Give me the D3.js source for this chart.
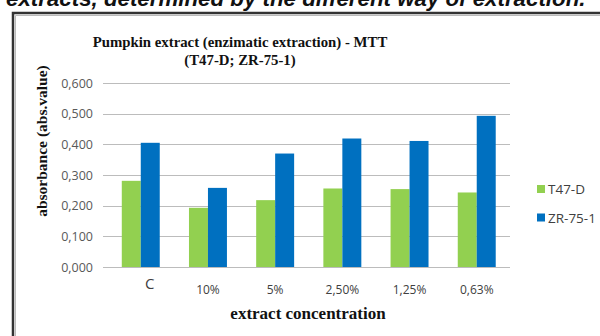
<!DOCTYPE html>
<html>
<head>
<meta charset="utf-8">
<script src="https://cdn.jsdelivr.net/npm/d3@7"></script>
<style>
  body { margin: 0; background: #fff; }
  svg { display: block; }
</style>
</head>
<body>
<div id="Vis"></div>
<script>
// data
var categories = ["C", "10%", "5%", "2,50%", "1,25%", "0,63%"];
var seriesNames = ["T47-D", "ZR-75-1"];
var t47d = [0.281, 0.193, 0.218, 0.256, 0.254, 0.243];
var zr751 = [0.405, 0.258, 0.370, 0.419, 0.411, 0.493];
var yTicks = [0, 0.1, 0.2, 0.3, 0.4, 0.5, 0.6];
var colors = ["#92d050", "#0070c0"];

var W = 600, H = 336;
var margin = {top: 83, right: 90, bottom: 69, left: 103},
    width = W - margin.left - margin.right,
    height = H - margin.top - margin.bottom;

var root = d3.select("#Vis")
  .append("svg")
    .attr("width", W)
    .attr("height", H);

// cropped caption text at the very top
root.append("text")
  .attr("x", 6)
  .attr("y", 6)
  .attr("font-family", "Liberation Sans, Arial, sans-serif")
  .attr("font-style", "italic")
  .attr("font-weight", "bold")
  .attr("font-size", "22.3px")
  .attr("fill", "#111")
  .text("extracts, determined by the different way of extraction.");

// frame (top and left edges only)
root.append("path")
  .attr("d", "M13,336 V13 H600")
  .attr("fill", "none")
  .attr("stroke", "#333")
  .attr("stroke-width", 2.5);
root.append("path")
  .attr("d", "M15.5,336 V15.5 H600")
  .attr("fill", "none")
  .attr("stroke", "#bbb")
  .attr("stroke-width", 1);

var svg = root.append("g")
  .attr("transform", "translate(" + margin.left + "," + margin.top + ")");

var x = d3.scaleBand()
  .domain(categories)
  .range([4, 407.5])
  .paddingInner(0.435)
  .paddingOuter(0.22);

var xs = d3.scaleBand()
  .domain(seriesNames)
  .range([0, x.bandwidth()]);

var y = d3.scaleLinear()
  .domain([0, 0.6])
  .range([height, 0]);

// gridlines
svg.append("g")
  .selectAll("line")
  .data(yTicks)
  .enter().append("line")
    .attr("x1", 0)
    .attr("x2", width)
    .attr("y1", function(d) { return Math.round(y(d)) + 0.5; })
    .attr("y2", function(d) { return Math.round(y(d)) + 0.5; })
    .attr("stroke", "#bcbcbc")
    .attr("stroke-width", 1.2);

// y axis labels
var yAxis = svg.append("g")
  .call(d3.axisLeft(y).tickValues(yTicks).tickSize(0).tickPadding(10)
    .tickFormat(function(d) { return d3.format(".3f")(d).replace(".", ","); }));
yAxis.select(".domain").remove();
yAxis.selectAll("text")
  .attr("font-family", "Open Sans, sans-serif")
  .attr("font-size", "12.5px")
  .attr("fill", "#595959");

// bars
var table = categories.map(function(c, i) {
  return {cat: c, values: [t47d[i], zr751[i]]};
});

svg.append("g")
  .selectAll("g")
  .data(table)
  .enter().append("g")
    .attr("transform", function(d) { return "translate(" + x(d.cat) + ",0)"; })
  .selectAll("rect")
  .data(function(d) { return d.values.map(function(v, j) { return {s: seriesNames[j], v: v, j: j}; }); })
  .enter().append("rect")
    .attr("x", function(d) { return xs(d.s); })
    .attr("width", xs.bandwidth())
    .attr("y", function(d) { return y(d.v); })
    .attr("height", function(d) { return height - y(d.v); })
    .attr("fill", function(d) { return colors[d.j]; });

// x axis labels
var xAxis = svg.append("g")
  .attr("transform", "translate(0," + height + ")")
  .call(d3.axisBottom(x).tickSize(0).tickPadding(18));
xAxis.select(".domain").remove();
xAxis.selectAll("text")
  .attr("font-family", "Open Sans, sans-serif")
  .attr("font-size", "12px")
  .attr("fill", "#404040");
xAxis.selectAll("text")
  .filter(function(d) { return d === "C"; })
  .attr("font-size", "15px")
  .attr("dx", 9)
  .attr("dy", "0.25em");

// legend
var legend = root.append("g")
  .attr("transform", "translate(537,185)");
legend.selectAll("rect")
  .data(seriesNames)
  .enter().append("rect")
    .attr("x", 0)
    .attr("y", function(d, i) { return i * 28.5; })
    .attr("width", 8)
    .attr("height", 8)
    .attr("fill", function(d, i) { return colors[i]; });
legend.selectAll("text")
  .data(seriesNames)
  .enter().append("text")
    .attr("x", 11)
    .attr("y", function(d, i) { return i * 28.5 + 9; })
    .attr("font-family", "Open Sans, sans-serif")
    .attr("font-size", "13.5px")
    .attr("fill", "#404040")
    .text(function(d) { return d; });

// title
var title = root.append("text")
  .attr("x", 240)
  .attr("y", 47)
  .attr("text-anchor", "middle")
  .attr("font-family", "Liberation Serif, Times New Roman, serif")
  .attr("font-weight", "bold")
  .attr("font-size", "14.8px")
  .attr("fill", "#111");
title.append("tspan").attr("x", 240).text("Pumpkin extract (enzimatic extraction) - MTT");
title.append("tspan").attr("x", 240).attr("dy", 18).text("(T47-D; ZR-75-1)");

// y axis title
root.append("text")
  .attr("transform", "translate(47,141) rotate(-90)")
  .attr("text-anchor", "middle")
  .attr("font-family", "Liberation Serif, Times New Roman, serif")
  .attr("font-weight", "bold")
  .attr("font-size", "15.5px")
  .attr("fill", "#111")
  .text("absorbance (abs.value)");

// x axis title
root.append("text")
  .attr("x", 308)
  .attr("y", 319)
  .attr("text-anchor", "middle")
  .attr("font-family", "Liberation Serif, Times New Roman, serif")
  .attr("font-weight", "bold")
  .attr("font-size", "17px")
  .attr("fill", "#111")
  .text("extract concentration");
</script>
</body>
</html>
